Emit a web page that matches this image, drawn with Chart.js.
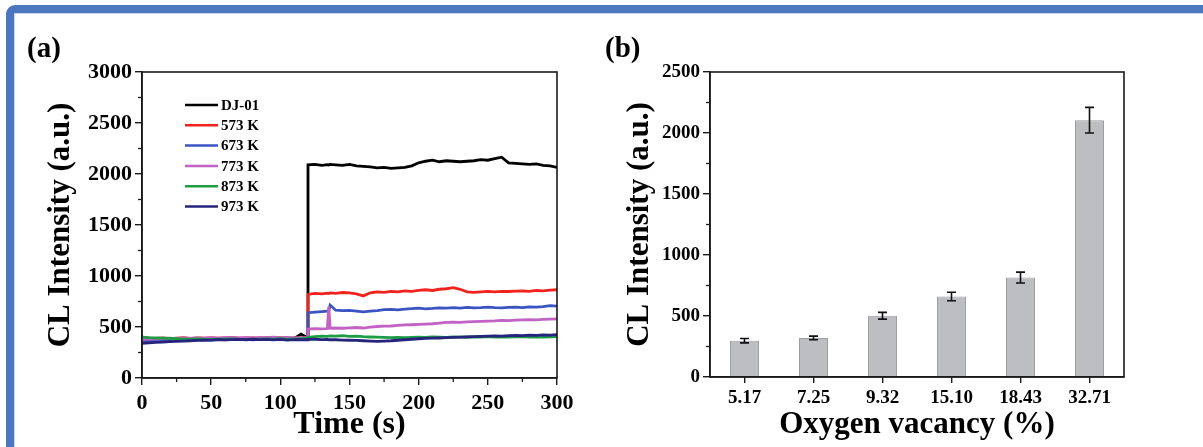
<!DOCTYPE html>
<html>
<head>
<meta charset="utf-8">
<script src="https://cdn.jsdelivr.net/npm/chart.js@4.4.1/dist/chart.umd.min.js"></script>
<style>
  html, body { margin: 0; padding: 0; background: #fff; overflow: hidden; }
  #wrap { position: relative; width: 1203px; height: 447px; }
  #frame { position: absolute; left: 6px; top: 5px; width: 1260px; height: 520px;
           border: 8px solid #4b77be; border-radius: 9px; box-shadow: inset 0 0 0 1px #c9d5ec; }
  canvas { position: absolute; top: 0; }
  #cA { left: 0; }
  #cB { left: 600px; }
</style>
</head>
<body>
<div id="wrap">
  <div id="frame"></div>
  <canvas id="cA" width="600" height="447"></canvas>
  <canvas id="cB" width="603" height="447"></canvas>
</div>
<script>
// (a) CL intensity vs time
const times = [0,5,10,15,20,25,30,35,40,45,50,55,60,65,70,75,80,85,90,95,100,105,110,115,120,120,125,130,134,135,136,140,145,150,155,160,165,170,175,180,185,190,195,200,205,210,215,220,225,230,235,240,245,250,255,260,265,270,275,280,285,290,295,300];
const dj01 = [370,375,372,378,380,376,382,378,380,384,380,378,382,385,380,383,386,380,384,382,386,384,388,430,390,2090,2095,2085,2092,2088,2095,2090,2085,2095,2080,2075,2070,2060,2065,2055,2060,2065,2080,2110,2125,2135,2120,2130,2125,2120,2125,2130,2140,2135,2150,2165,2110,2105,2100,2095,2100,2085,2080,2065];
const k573 = [385,390,388,392,386,390,395,388,392,390,394,388,392,396,390,394,392,388,395,392,396,390,394,392,392,820,830,825,832,828,835,830,838,835,825,805,835,845,840,850,845,855,850,860,865,858,870,875,885,870,845,840,845,850,845,850,848,852,855,850,858,855,862,865];
const k673 = [360,365,370,368,372,375,370,378,374,376,372,378,375,380,376,378,374,380,376,378,382,376,380,384,384,640,645,650,655,660,715,665,660,662,655,648,655,660,670,672,668,675,680,685,678,682,688,685,690,686,692,688,690,695,690,688,692,695,690,698,695,700,710,705];
const k773 = [380,385,382,388,390,386,392,388,394,390,396,392,395,398,392,396,394,398,395,400,396,398,394,396,396,480,485,482,485,700,488,490,488,492,495,490,498,505,508,510,515,520,522,525,528,532,538,545,548,545,550,552,555,558,560,565,562,568,570,572,570,575,578,580];
const k873 = [400,395,392,390,388,385,382,380,384,380,378,382,380,384,380,378,382,380,384,382,386,380,384,386,390,400,405,410,408,410,412,410,415,408,410,405,402,400,398,396,398,395,398,400,398,402,400,398,402,400,404,402,400,405,402,404,400,403,405,402,404,400,403,405];
const k973 = [340,345,350,352,356,360,362,365,368,370,372,375,374,376,378,375,380,376,378,374,378,372,376,375,375,378,380,376,378,375,377,375,372,370,368,365,362,360,362,365,370,375,380,385,388,390,392,395,398,400,402,405,408,410,412,410,415,418,415,420,418,422,420,425];
const seriesNames = ['DJ-01', '573 K', '673 K', '773 K', '873 K', '973 K'];
const seriesColors = ['#000000', '#f2231f', '#3a55c2', '#c262c4', '#1f9d45', '#26247c'];
const seriesData = [dj01, k573, k673, k773, k873, k973];
const timeTicks = [0, 50, 100, 150, 200, 250, 300];

// (b) CL intensity vs oxygen vacancy
const vacancy = ['5.17', '7.25', '9.32', '15.10', '18.43', '32.71'];
const intensity = [298, 320, 502, 660, 815, 2105];
const errors = [18, 15, 28, 35, 45, 105];

const FONT = '"Liberation Serif", "Times New Roman", serif';

const boxPlugin = {
  id: 'box',
  afterDraw(chart, args, opts) {
    const { ctx, chartArea: a } = chart;
    ctx.save();
    ctx.strokeStyle = '#1a1a1a';
    ctx.lineWidth = 1.6;
    ctx.strokeRect(a.left, a.top, a.right - a.left, a.bottom - a.top);
    // minor ticks
    ctx.lineWidth = 1.3;
    const y = chart.scales.y;
    (opts.yMinor || []).forEach(v => {
      const p = y.getPixelForValue(v);
      ctx.beginPath(); ctx.moveTo(a.left, p); ctx.lineTo(a.left - 4, p); ctx.stroke();
    });
    const x = chart.scales.x;
    (opts.xMinor || []).forEach(v => {
      const p = x.getPixelForValue(v);
      ctx.beginPath(); ctx.moveTo(p, a.bottom); ctx.lineTo(p, a.bottom + 4); ctx.stroke();
    });
    // panel label
    ctx.fillStyle = '#000';
    ctx.font = 'bold 29px ' + FONT;
    ctx.textBaseline = 'middle';
    ctx.fillText(opts.label, opts.lx, opts.ly);
    ctx.restore();
  }
};

const legendPlugin = {
  id: 'miniLegend',
  afterDraw(chart) {
    const ctx = chart.ctx;
    ctx.save();
    ctx.font = 'bold 15px ' + FONT;
    ctx.textBaseline = 'middle';
    seriesNames.forEach((n, i) => {
      const yy = 105 + i * 20.3;
      ctx.strokeStyle = seriesColors[i];
      ctx.lineWidth = 2.5;
      ctx.beginPath(); ctx.moveTo(185, yy); ctx.lineTo(218, yy); ctx.stroke();
      ctx.fillStyle = '#000';
      ctx.fillText(n, 221, yy + 1);
    });
    ctx.restore();
  }
};

const errorPlugin = {
  id: 'errBars',
  afterDatasetsDraw(chart) {
    const { ctx } = chart;
    const x = chart.scales.x, y = chart.scales.y;
    ctx.save();
    ctx.strokeStyle = '#111';
    ctx.lineWidth = 1.6;
    intensity.forEach((v, i) => {
      const px = x.getPixelForValue(i);
      const t = y.getPixelForValue(v + errors[i]);
      const b = y.getPixelForValue(v - errors[i]);
      ctx.beginPath();
      ctx.moveTo(px, t); ctx.lineTo(px, b);
      ctx.moveTo(px - 4.5, t); ctx.lineTo(px + 4.5, t);
      ctx.moveTo(px - 4.5, b); ctx.lineTo(px + 4.5, b);
      ctx.stroke();
    });
    ctx.restore();
  }
};

function axisCommon(size) {
  return {
    color: '#000',
    font: { family: FONT, size: size, weight: 'bold' }
  };
}
const plain = v => String(v);

// Graphique (a)
new Chart(document.getElementById('cA'), {
  type: 'line',
  data: {
    datasets: seriesData.map((d, i) => ({
      label: seriesNames[i],
      data: d.map((v, k) => ({ x: times[k], y: v })),
      borderColor: seriesColors[i],
      borderWidth: 2.8,
      pointRadius: 0,
      tension: 0,
      order: seriesData.length - i
    }))
  },
  options: {
    responsive: false,
    animation: false,
    layout: { padding: { left: 38, top: 72, right: 43, bottom: 3 } },
    plugins: {
      legend: { display: false }, tooltip: { enabled: false },
      box: { label: '(a)', lx: 27, ly: 50, yMinor: [250, 750, 1250, 1750, 2250, 2750], xMinor: [25, 75, 125, 175, 225, 275] }
    },
    scales: {
      x: {
        type: 'linear', min: 0, max: 300,
        afterBuildTicks: s => { s.ticks = timeTicks.map(v => ({ value: v })); },
        afterFit: s => { s.height = 66; },
        grid: { drawOnChartArea: false, tickLength: 7, color: '#1a1a1a', lineWidth: 1.4 },
        border: { color: '#1a1a1a', width: 1.6 },
        ticks: Object.assign({ padding: 5, maxRotation: 0, callback: plain }, axisCommon(22)),
        title: { display: true, text: 'Time (s)', padding: { top: 0, bottom: 0 }, ...axisCommon(32) }
      },
      y: {
        min: 0, max: 3000,
        ticks: Object.assign({ stepSize: 500, padding: 3, callback: plain }, axisCommon(22)),
        afterFit: s => { s.width = 104; },
        grid: { drawOnChartArea: false, tickLength: 7, color: '#1a1a1a', lineWidth: 1.4 },
        border: { color: '#1a1a1a', width: 1.6 },
        title: { display: true, text: 'CL Intensity (a.u.)', padding: { top: 4, bottom: 0 }, ...axisCommon(31) }
      }
    }
  },
  plugins: [boxPlugin, legendPlugin]
});

// Graphique (b)
new Chart(document.getElementById('cB'), {
  type: 'bar',
  data: {
    labels: vacancy,
    datasets: [{
      data: intensity,
      backgroundColor: '#bdbec2',
      borderColor: '#9c9da2',
      borderWidth: 1,
      barPercentage: 0.42,
      categoryPercentage: 1
    }]
  },
  options: {
    responsive: false,
    animation: false,
    layout: { padding: { left: 17, top: 72, right: 79, bottom: 3 } },
    plugins: {
      legend: { display: false }, tooltip: { enabled: false },
      box: { label: '(b)', lx: 5, ly: 50, yMinor: [250, 750, 1250, 1750, 2250] }
    },
    scales: {
      x: {
        afterFit: s => { s.height = 67; },
        grid: { drawOnChartArea: false, offset: false, tickLength: 6, color: '#1a1a1a', lineWidth: 1.4 },
        border: { color: '#1a1a1a', width: 1.6 },
        ticks: Object.assign({ padding: 4, maxRotation: 0 }, axisCommon(19)),
        title: { display: true, text: 'Oxygen vacancy (%)', padding: { top: 0, bottom: 0 }, ...axisCommon(31) }
      },
      y: {
        min: 0, max: 2500,
        ticks: Object.assign({ stepSize: 500, padding: 3, callback: plain }, axisCommon(19)),
        afterFit: s => { s.width = 93; },
        grid: { drawOnChartArea: false, tickLength: 7, color: '#1a1a1a', lineWidth: 1.4 },
        border: { color: '#1a1a1a', width: 1.6 },
        title: { display: true, text: 'CL Intensity (a.u.)', padding: { top: 4, bottom: 0 }, ...axisCommon(31) }
      }
    }
  },
  plugins: [boxPlugin, errorPlugin]
});
</script>
</body>
</html>
